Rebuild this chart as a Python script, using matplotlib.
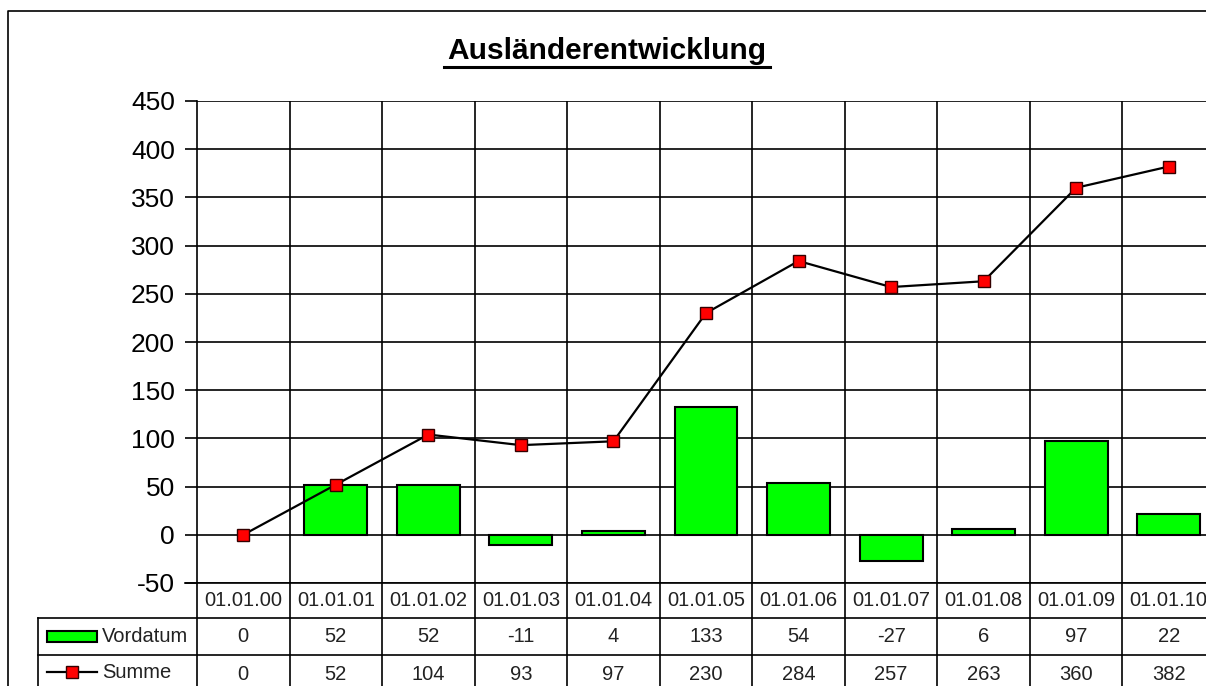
import matplotlib.pyplot as plt
import matplotlib.transforms as mtransforms
from matplotlib.patches import Rectangle
from matplotlib.lines import Line2D

plt.rcParams['font.family'] = ['Liberation Sans', 'DejaVu Sans']
plt.rcParams['axes.unicode_minus'] = False

dates = ["01.01.00", "01.01.01", "01.01.02", "01.01.03", "01.01.04", "01.01.05",
         "01.01.06", "01.01.07", "01.01.08", "01.01.09", "01.01.10"]
vordatum = [0, 52, 52, -11, 4, 133, 54, -27, 6, 97, 22]
summe = [0, 52, 104, 93, 97, 230, 284, 257, 263, 360, 382]
yticks = [-50, 0, 50, 100, 150, 200, 250, 300, 350, 400, 450]

W, H = 1206, 686
fig = plt.figure(figsize=(W / 100, H / 100), dpi=100)

def fx(px):
    return px / W

def fy(py):
    return 1 - py / H

# plot area in pixels (the chart is cut off on the right)
left, right, top, bottom = 197, 1215, 101, 583
ax = fig.add_axes([fx(left), fy(bottom), fx(right) - fx(left), fy(top) - fy(bottom)])

n = len(dates)
xs = list(range(n))
edge_w = [1.5 if v != 0 else 0 for v in vordatum]
ax.bar(xs, vordatum, width=0.68, color="#00FF00", edgecolor="black", linewidth=edge_w, zorder=3)
ax.plot(xs, summe, color="black", lw=1.6, marker="s", markersize=9,
        markerfacecolor="#FF0000", markeredgecolor="#330000", markeredgewidth=1, zorder=4,
        clip_on=False)

ax.set_xlim(-0.5, n - 0.5)
ax.set_ylim(-50, 450)
ax.set_yticks(yticks)
ax.set_xticks([])
for s in ["top", "right", "bottom"]:
    ax.spines[s].set_visible(False)
ax.spines["left"].set_linewidth(1.2)
ax.tick_params(axis="y", direction="out", length=9, width=1.2, labelsize=19, pad=7)
ax.grid(axis="y", color="black", lw=1.2, zorder=1)
for i in range(n):
    ax.axvline(i + 0.5, color="black", lw=1.2, zorder=1)

# title
fig.text(fx(607), fy(51), "Ausländerentwicklung", ha="center", va="center",
         fontsize=21.5, fontweight="bold")
fig.add_artist(Line2D([fx(444), fx(770)], [fy(67), fy(67)], color="black", lw=2.2))

# outer chart border
fig.add_artist(Line2D([fx(8), fx(8), 1], [0, fy(11), fy(11)], color="black", lw=1.2))

# data table below the plot
trans = mtransforms.blended_transform_factory(ax.transData, fig.transFigure)
row_y = [583, 618, 655]
ax.add_line(Line2D([-0.5 - 12 / 92.5, n - 0.5], [fy(583)] * 2, transform=trans,
                   color="black", lw=1.2, clip_on=False))
for yy in row_y[1:]:
    fig.add_artist(Line2D([fx(38), 1], [fy(yy)] * 2, color="black", lw=1.2))
for i in range(n + 1):
    ax.add_line(Line2D([i - 0.5, i - 0.5], [fy(583), 0], transform=trans,
                       color="black", lw=1.2, clip_on=False))
fig.add_artist(Line2D([fx(38), fx(38)], [fy(618), 0], color="black", lw=1.2))

tcol = "#222222"
for i in range(n):
    ax.text(xs[i], fy(601), dates[i], transform=trans, ha="center", va="center",
            fontsize=14.5, color=tcol)
    ax.text(xs[i], fy(637), str(vordatum[i]), transform=trans, ha="center", va="center",
            fontsize=14.5, color=tcol)
    ax.text(xs[i], fy(674), str(summe[i]), transform=trans, ha="center", va="center",
            fontsize=14.5, color=tcol)

# legend keys in table
fig.add_artist(Rectangle((fx(47), fy(642)), fx(97) - fx(47), fy(631) - fy(642),
                         facecolor="#00FF00", edgecolor="black", lw=1.5))
fig.text(fx(102), fy(637), "Vordatum", ha="left", va="center", fontsize=14.5, color=tcol)
fig.add_artist(Line2D([fx(47), fx(97)], [fy(672)] * 2, color="black", lw=1.6))
fig.add_artist(Line2D([fx(72)], [fy(672)], marker="s", markersize=8, color="black",
                      markerfacecolor="#FF0000", markeredgecolor="#330000", lw=0))
fig.text(fx(102), fy(673), "Summe", ha="left", va="center", fontsize=14.5, color=tcol)

fig.savefig("out.png", dpi=100)
